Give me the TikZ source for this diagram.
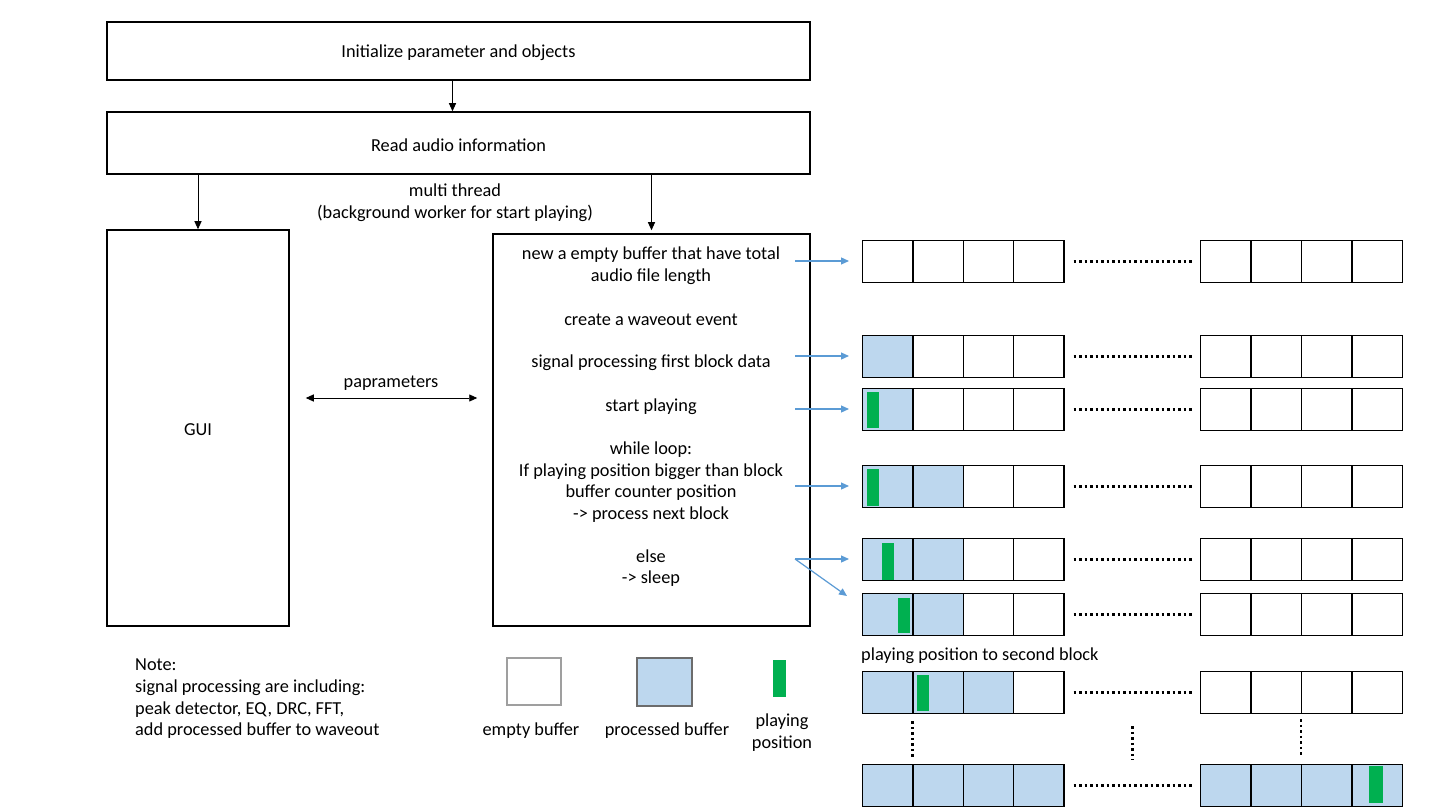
\documentclass[tikz,border=0pt]{standalone}
\usepackage{fontspec}
\setmainfont{Carlito}
\usepackage{tikz}
\usetikzlibrary{arrows.meta,calc}
\definecolor{AzulBuffer}{RGB}{189,215,238}
\definecolor{AzulFlecha}{RGB}{91,155,213}
\definecolor{VerdePlay}{RGB}{0,176,80}
\tikzset{
  txt/.style={font=\fontsize{18.3}{21.6}\selectfont,align=center,inner sep=0pt,yshift=-2pt},
  box/.style={draw,line width=1.5pt,inner sep=0pt},
  cell/.style={draw,line width=1.3pt,minimum width=50.3pt,minimum height=42pt,inner sep=0pt,anchor=north west},
  playbar/.style={fill=VerdePlay,minimum width=12pt,inner sep=0pt},
  flecha/.style={-{Triangle[length=8pt,width=7pt]},line width=0.9pt},
  flechaazul/.style={AzulFlecha,-{Triangle[length=8pt,width=7pt]},line width=1.2pt},
  dotrow/.style={line width=2.6pt,dash pattern=on 2.6pt off 2.9pt},
}
\begin{document}
\begin{tikzpicture}[x=1pt,y=-1pt]
  \useasboundingbox[fill=white] (0,0) rectangle (1440,810);
  % main flow
  \node[box,minimum width=703pt,minimum height=58pt] (init) at (458.5,51) {};
  \node[txt] at (init) {Initialize parameter and objects};
  \node[box,minimum width=703pt,minimum height=62pt] (read) at (458.5,143) {};
  \node[txt] at (read) {Read audio information};
  \node[box,minimum width=182pt,minimum height=396pt] (gui) at (198,428) {};
  \node[txt] at (gui) {GUI};
  \node[box,minimum width=317pt,minimum height=392pt] (proc) at (651.5,430) {};
  \draw[flecha] ([xshift=-6pt]init.south) -- ([xshift=-6pt]read.north);
  \draw[flecha] (read.south -| gui) -- (gui.north);
  \draw[flecha] (read.south -| proc) -- ([yshift=3pt]proc.north);
  \node[txt] (mt) at (455,201) {multi thread\\(background worker for start playing)};
  \draw[{Triangle[length=8pt,width=7pt]}-{Triangle[length=8pt,width=7pt]},line width=0.9pt,shorten <=16pt,shorten >=15pt]
    ([yshift=30pt]gui.east) -- ([yshift=30pt]gui.east -| proc.west)
    node[txt,midway,above,yshift=9pt] (par) {paprameters};
  % steps inside the worker
  \node[txt] (t1) at (651,263.5) {new a empty buffer that have total\\audio file length};
  \node[txt] (t2) at (651,318) {create a waveout event};
  \node[txt] (t3) at (651,361) {signal processing first block data};
  \node[txt] (t4) at (651,405) {start playing};
  \node[txt] (t5) at (651,480) {while loop:\\If playing position bigger than block\\buffer counter position\\-> process next block};
  \node[txt] (t6) at (651,566) {else\\-> sleep};
  % buffer rows
  \foreach \r/\yt/\nf in {1/240/0,2/335/1,3/388/1,4/465/2,5/538/2,6/593/2,7/671/3,8/764/8}{
    \foreach \c in {1,...,8}{
      \ifnum\c>4 \pgfmathsetmacro\xl{1200+(\c-5)*50.5}\else\pgfmathsetmacro\xl{862+(\c-1)*50.3}\fi
      \ifnum\c>\nf \def\cf{white}\else\def\cf{AzulBuffer}\fi
      \node[cell,fill=\cf] (r\r-\c) at (\xl,\yt) {};
    }
    \draw[dotrow] ([xshift=9pt]r\r-4.east) -- ([xshift=-8pt]r\r-5.west);
  }
  \node[playbar,minimum height=36pt] (pos3) at (873,410) {};
  \node[playbar,minimum height=37pt] (pos4) at (872.5,487.5) {};
  \node[playbar,minimum height=37pt] (pos5) at (888,561) {};
  \node[playbar,minimum height=35pt] (pos6) at (904,615.5) {};
  \node[playbar,minimum height=36pt] (pos7) at (922.5,693) {};
  \node[playbar,minimum height=37pt,minimum width=14pt] (pos8) at (1376,784.5) {};
  \node[txt,anchor=west] (second) at (861,654) {playing position to second block};
  \draw[dotrow] ([yshift=-7pt]r7-2.south west) -- ([yshift=6pt]r8-2.north west);
  \draw[dotrow] ($([yshift=-12pt]r7-4.south east)!0.5!([yshift=-12pt]r7-5.south west)$)
    -- ($([yshift=4pt]r8-4.north east)!0.5!([yshift=4pt]r8-5.north west)$);
  \draw[dotrow] ([yshift=-5pt]r7-7.south west) -- ([yshift=7pt]r8-7.north west);
  % blue connectors
  \coordinate (a1) at (795,261);
  \coordinate (a2) at (795,356);
  \coordinate (a3) at (795,409);
  \coordinate (a4) at (795,486);
  \coordinate (a5) at (795,559);
  \coordinate (d6) at (847,596);
  \foreach \k in {1,...,5}{
    \draw[flechaazul,shorten >=13pt] (a\k) -- (a\k -| r\k-1.west);
  }
  \draw[flechaazul] (a5) -- (d6);
  % legend
  \node[draw=gray!75,line width=1.6pt,minimum width=54pt,minimum height=47pt,inner sep=0pt] (lgE) at (534,681.5) {};
  \node[draw=gray!85!black,fill=AzulBuffer,line width=1.6pt,minimum width=55pt,minimum height=48pt,inner sep=0pt] (lgP) at (664.5,682) {};
  \node[playbar,minimum width=13pt,minimum height=37pt] (lgG) at (779.5,678.5) {};
  \node[txt] (lgEt) at (531,729) {empty buffer};
  \node[txt] (lgPt) at (667,729) {processed buffer};
  \node[txt] (lgGt) at (782,730.5) {playing\\position};
  % note
  \node[txt,align=left,anchor=north west] (note) at (135,657) {Note:\\signal processing are including:\\peak detector, EQ, DRC, FFT,\\add processed buffer to waveout};
\end{tikzpicture}
\end{document}
